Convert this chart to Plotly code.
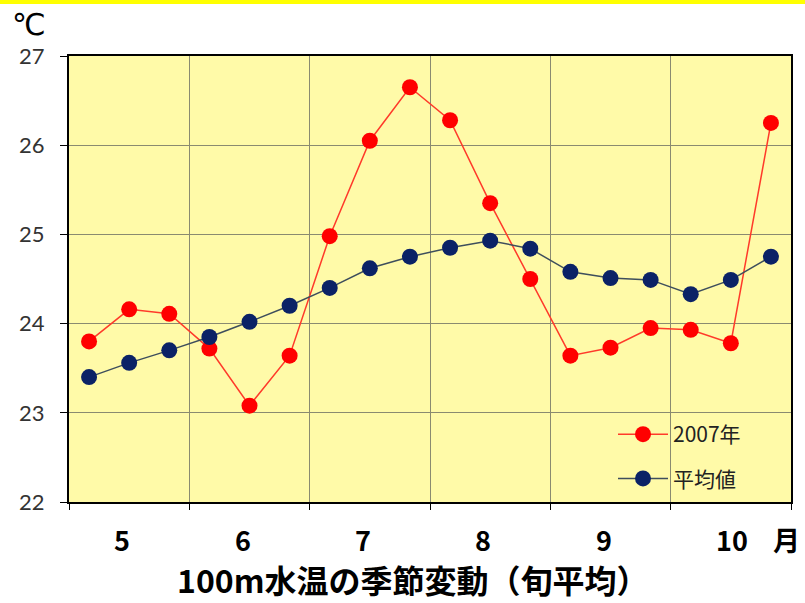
import plotly.graph_objects as go

# 旬 (dekad) index: 3 per month, May..October
dekads = list(range(18))
months = ["5", "6", "7", "8", "9", "10"]

temp_2007 = [23.80, 24.16, 24.11, 23.72, 23.08, 23.64,
             24.98, 26.05, 26.65, 26.28, 25.35, 24.50,
             23.64, 23.73, 23.95, 23.93, 23.78, 26.25]
temp_mean = [23.40, 23.56, 23.70, 23.85, 24.02, 24.20,
             24.40, 24.62, 24.75, 24.85, 24.93, 24.84,
             24.58, 24.51, 24.49, 24.33, 24.49, 24.75]

y_ticks = [22, 23, 24, 25, 26, 27]

L, R, T, B = 69, 14, 56, 101
W, H = 805, 603
PW, PH = W - L - R, H - T - B


def px_x(x):
    return (x - L) / PW


def px_y(y):
    return (H - B - y) / PH


fig = go.Figure()
fig.add_trace(go.Scatter(
    x=dekads, y=temp_2007, name="2007年", mode="lines+markers",
    line=dict(color="#FF3A2A", width=1.5),
    marker=dict(color="#FF0000", size=16),
    legendgroup="a",
))
fig.add_trace(go.Scatter(
    x=dekads, y=temp_mean, name="平均値", mode="lines+markers",
    line=dict(color="#3E4E5C", width=1.5),
    marker=dict(color="#0B2266", size=16),
    legendgroup="b",
))

grid = "#8A8A70"
fig.update_xaxes(
    range=[-0.5, 17.5], tickmode="array",
    tickvals=[-0.5 + 3 * i for i in range(7)],
    showticklabels=False, ticks="outside", ticklen=6, tickcolor="black",
    showgrid=True, gridcolor=grid, gridwidth=1,
    showline=True, linecolor="black", linewidth=2, mirror=True,
    zeroline=False, fixedrange=True,
)
fig.update_yaxes(
    range=[22, 27], tickmode="array", tickvals=y_ticks,
    ticktext=[str(v) for v in y_ticks],
    ticks="outside", ticklen=7, tickcolor="black", ticklabelstandoff=11,
    tickfont=dict(family="Lato, 'Noto Sans', sans-serif", size=22, color="#333333"),
    showgrid=True, gridcolor=grid, gridwidth=1,
    showline=True, linecolor="black", linewidth=2, mirror=True,
    zeroline=False, fixedrange=True,
)

annotations = []
for i, m in enumerate(months):
    annotations.append(dict(
        x=3 * i + 1, y=px_y(539), xref="x", yref="paper",
        text=m, showarrow=False, xanchor="left", yanchor="middle", xshift=-17,
        font=dict(family="'Noto Sans CJK JP', sans-serif", size=27, color="black", weight="bold"),
    ))
annotations.append(dict(
    x=px_x(786), y=px_y(539), xref="paper", yref="paper", text="月",
    showarrow=False, xanchor="center", yanchor="middle",
    font=dict(family="'Noto Sans CJK JP', sans-serif", size=27, color="black", weight="bold"),
))
annotations.append(dict(
    x=px_x(413), y=px_y(579), xref="paper", yref="paper",
    text="100m水温の季節変動（旬平均）",
    showarrow=False, xanchor="center", yanchor="middle",
    font=dict(family="'Noto Sans CJK JP', sans-serif", size=32, color="black", weight="bold"),
))
annotations.append(dict(
    x=px_x(29), y=px_y(5), xref="paper", yref="paper", text="℃",
    showarrow=False, xanchor="center", yanchor="top",
    font=dict(family="'DejaVu Sans', sans-serif", size=30, color="black"),
))

fig.update_layout(
    width=W, height=H,
    margin=dict(l=L, r=R, t=T, b=B),
    paper_bgcolor="white", plot_bgcolor="#FFFAA8",
    showlegend=True,
    legend=dict(
        x=px_x(613), y=px_y(414), xanchor="left", yanchor="top",
        bgcolor="rgba(0,0,0,0)", borderwidth=0, tracegroupgap=14, itemwidth=50,
        font=dict(family="'Noto Sans CJK JP', sans-serif", size=21, color="#222222"),
    ),
    annotations=annotations,
    shapes=[dict(
        type="rect", xref="paper", yref="paper",
        x0=px_x(0), x1=px_x(W), y0=px_y(4), y1=px_y(0),
        fillcolor="#FFFF00", line=dict(width=0), layer="above",
    )],
)

fig.write_html("out.html")
